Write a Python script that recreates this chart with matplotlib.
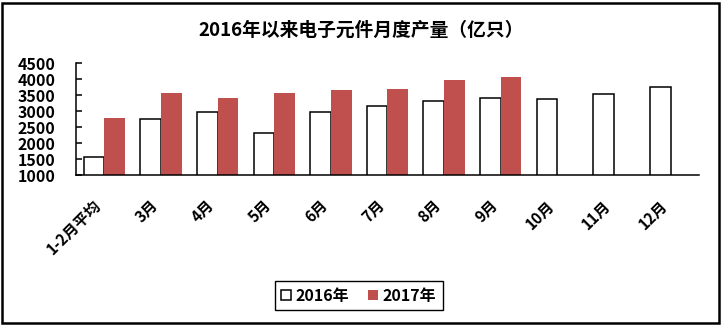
import matplotlib
matplotlib.use("Agg")
import matplotlib.pyplot as plt
import numpy as np
from matplotlib.patches import Rectangle

plt.rcParams['font.family'] = ['Noto Sans CJK SC', 'DejaVu Sans']
plt.rcParams['font.weight'] = 'bold'

# 月度产量数据（亿只）
months = ['1-2月平均', '3月', '4月', '5月', '6月', '7月', '8月', '9月', '10月', '11月', '12月']
output_2016 = [1555, 2745, 2965, 2305, 2965, 3150, 3310, 3405, 3370, 3530, 3750]
output_2017 = [2790, 3570, 3415, 3570, 3665, 3695, 3975, 4070]
yticks = [1000, 1500, 2000, 2500, 3000, 3500, 4000, 4500]

fig = plt.figure(figsize=(7.22, 3.27), dpi=100)
ax = fig.add_axes([0.1053, 0.4648, 0.8627, 0.3416])

x = np.arange(len(months))
w = 0.365
ax.bar(x - w / 2, output_2016, w, bottom=0, color='white', edgecolor='black',
       linewidth=1.1, label='2016年')
ax.bar(x[:len(output_2017)] + w / 2, output_2017, w, color='#C0504D',
       label='2017年')

ax.set_xlim(-0.5, len(months) - 0.5)
ax.set_ylim(1000, 4500)
ax.set_yticks(yticks)
ax.set_yticklabels([str(v) for v in yticks], fontsize=11.5, fontweight='bold')
ax.set_xticks(x)
ax.set_xticklabels(months, rotation=45, ha='right', va='top', fontsize=11,
                   fontweight='bold')
ax.tick_params(axis='x', length=0, pad=16)
ax.tick_params(axis='y', direction='in', length=4, width=1.1, pad=15)

for side in ['top', 'right']:
    ax.spines[side].set_visible(False)
for side in ['left', 'bottom']:
    ax.spines[side].set_linewidth(1.1)

fig.text(0.5, 1 - 30 / 327, '2016年以来电子元件月度产量（亿只）', ha='center',
         va='center', fontsize=13.5, fontweight='bold')

leg = fig.legend(loc='center', bbox_to_anchor=(0.497, 0.096), ncol=2,
                 fancybox=False, edgecolor='black', framealpha=1,
                 handlelength=0.6, handleheight=0.6, handletextpad=0.3,
                 columnspacing=1.2, prop={'size': 11.5, 'weight': 'bold'})
leg.get_frame().set_linewidth(1.0)

# 外边框
fig.patches.append(Rectangle((2 / 722, 1 - 323 / 327), 717 / 722, 320 / 327,
                             transform=fig.transFigure, fill=False,
                             edgecolor='black', linewidth=1.8))

fig.savefig('out.png', dpi=100)
